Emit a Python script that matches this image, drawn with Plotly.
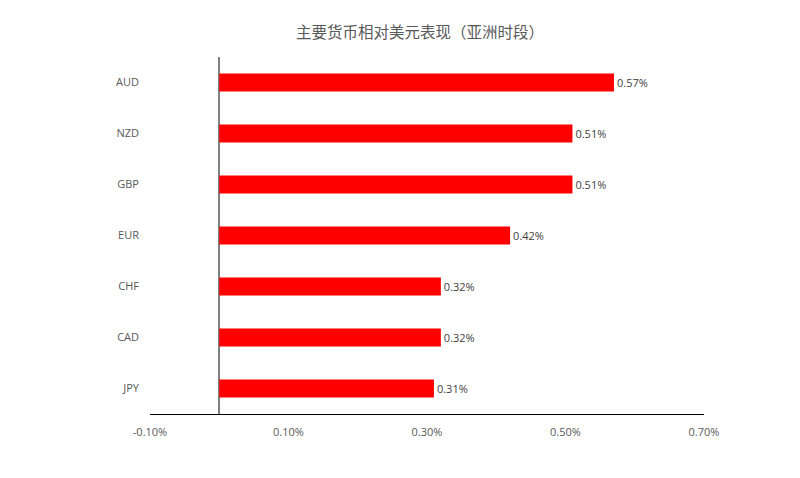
import plotly.graph_objects as go

# currency performance vs USD, Asian session (%)
currencies = ['AUD', 'NZD', 'GBP', 'EUR', 'CHF', 'CAD', 'JPY']
changes = [0.57, 0.51, 0.51, 0.42, 0.32, 0.32, 0.31]
tick_vals = [-0.10, 0.10, 0.30, 0.50, 0.70]
tick_text = ['-0.10%', '0.10%', '0.30%', '0.50%', '0.70%']

fig = go.Figure()
fig.add_trace(go.Bar(
    y=currencies,
    x=changes,
    orientation='h',
    marker=dict(color='#ff0000', line=dict(width=0)),
    width=0.35,
    text=['%.2f%%' % v for v in changes],
    textposition='outside',
    cliponaxis=False,
    textfont=dict(size=11, color='#404040', family='Open Sans'),
))

# page body adds ~8px offset, so margins are shifted to compensate
fig.update_layout(
    width=800, height=478,
    paper_bgcolor='white', plot_bgcolor='white',
    margin=dict(l=142, r=104, t=49, b=72),
    showlegend=False,
    title=dict(text='主要货币相对美元表现（亚洲时段）', x=0.515, xanchor='center', y=0.948, yanchor='middle',
               font=dict(size=15.5, color='#595959', family='Noto Sans CJK SC')),
    font=dict(family='Open Sans', size=11, color='#595959'),
)
fig.update_xaxes(
    range=[-0.10, 0.70],
    tickvals=tick_vals, ticktext=tick_text,
    showgrid=False,
    showline=True, linecolor='#000000', linewidth=1,
    zeroline=True, zerolinecolor='#808080', zerolinewidth=1.5,
    ticks='', ticklabelstandoff=8,
    tickfont=dict(size=11, color='#595959'),
)
fig.update_yaxes(
    categoryorder='array', categoryarray=currencies[::-1],
    showgrid=False, showline=False, zeroline=False,
    ticks='', ticklabelstandoff=10,
    tickfont=dict(size=11, color='#595959'),
)

fig.write_html("out.html")
